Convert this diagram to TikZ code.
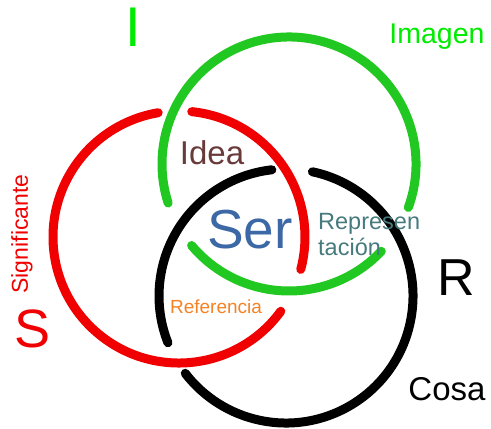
\documentclass[tikz,border=0pt]{standalone}
\usepackage{fontspec}
\setmainfont{Liberation Sans}
\usepackage{tikz}
\usepackage{xcolor}

\definecolor{ringgreen}{RGB}{34,200,34}
\definecolor{textgreen}{RGB}{0,235,0}
\definecolor{ringred}{RGB}{240,0,0}
\definecolor{ideabrown}{RGB}{105,58,58}
\definecolor{serblue}{RGB}{60,105,165}
\definecolor{reprteal}{RGB}{70,122,125}
\definecolor{reforange}{RGB}{245,130,35}

\begin{document}
\begin{tikzpicture}[x=1pt,y=1pt,yscale=-1,xscale=1,
  ring/.style={line width=9pt, line cap=round},
  lbl/.style={inner sep=0pt, anchor=base}]
\useasboundingbox (0,0) rectangle (491,429);

% centres of the three rings
\coordinate (cI) at (289,164);
\coordinate (cS) at (179,237);
\coordinate (cR) at (286,296);

%Arc: Imagen, upper part
\draw [ring, ringgreen] (cI) ++(20:127) arc [start angle=20, end angle=-197.9, radius=127];
%Arc: Imagen, lower part
\draw [ring, ringgreen] (cI) ++(43.4:127) arc [start angle=43.4, end angle=140.1, radius=127];

%Arc: Significante, right part
\draw [ring, ringred] (cS) ++(-84.2:126) arc [start angle=-84.2, end angle=14.9, radius=126];
%Arc: Significante, left part
\draw [ring, ringred] (cS) ++(36.1:126) arc [start angle=36.1, end angle=260.5, radius=126];

%Arc: Cosa, left part
\draw [ring, black] (cR) ++(158.4:127) arc [start angle=158.4, end angle=263.6, radius=127];
%Arc: Cosa, right part
\draw [ring, black] (cR) ++(-78:127) arc [start angle=-78, end angle=142.5, radius=127];

% Text Node
\node [lbl, textgreen, font=\fontsize{56}{56}\selectfont] (letI) at (133.5,46) {I};
\node [lbl, textgreen, font=\fontsize{28.5}{28.5}\selectfont] (imagen) at (437,43) {Imagen};
\node [lbl, ideabrown, font=\fontsize{33}{33}\selectfont] (idea) at (212,164) {Idea};
\node [lbl, serblue, font=\fontsize{55}{55}\selectfont] (ser) at (250,248) {Ser};
\node [inner sep=0pt, anchor=north west, align=left, reprteal,
  font=\fontsize{23.5}{26.5}\selectfont] (repr) at (318,213) {Represen\\tación};
\node [lbl, black, font=\fontsize{52}{52}\selectfont] (letR) at (456,295) {R};
\node [lbl, black, font=\fontsize{33}{33}\selectfont] (cosa) at (447,400) {Cosa};
\node [lbl, reforange, font=\fontsize{19}{19}\selectfont] (refer) at (216,313) {Referencia};
\node [inner sep=0pt, rotate=90, ringred, font=\fontsize{23}{23}\selectfont] (signif) at (22,234) {Significante};
\node [lbl, ringred, font=\fontsize{54}{54}\selectfont] (letS) at (33,347) {S};

\end{tikzpicture}
\end{document}
